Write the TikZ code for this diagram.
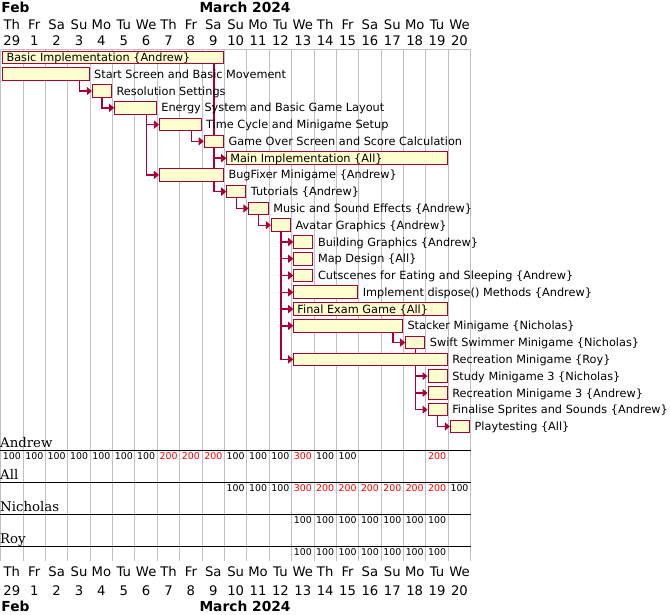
\documentclass[tikz,border=0pt]{standalone}
\usepackage{fontspec}
\setmainfont{DejaVu Sans}
\newfontfamily\resfont{DejaVu Serif}
\usetikzlibrary{arrows.meta,calc}
\definecolor{barfill}{HTML}{FEFECE}
\definecolor{depc}{HTML}{A80036}
\definecolor{gridc}{HTML}{C0C0C0}
\pgfdeclarelayer{bglayer}
\pgfdeclarelayer{arrlayer}
\pgfsetlayers{bglayer,arrlayer,main}
\newcommand\taskout[5]{%
  \node[taskbar, minimum width={22.38*#4-3.2}] (#1) at ({2.3+22.38*#3},{57.5+16.77*#2}) {};
  \node[tasklbl] (#1l) at ($(#1.east)+(4.4,4.1)$) {#5};}
\newcommand\taskin[5]{%
  \node[taskbar, minimum width={22.38*#4-3.2}] (#1) at ({2.3+22.38*#3},{57.5+16.77*#2}) {};
  \node[tasklbl] (#1l) at ($(#1.west)+(4.0,4.1)$) {#5};}
\newcommand\depend[2]{\draw[deparrow] ($(#1.south east)+(-10,0)$) |- (#2.west);}
\begin{document}
\begin{tikzpicture}[x=1pt,y=-1pt,
  taskbar/.style={draw=depc, fill=barfill, line width=1pt, inner sep=0pt, minimum height=12.6pt, anchor=west},
  tasklbl/.style={font=\fontsize{11.3}{13}\selectfont, inner sep=0pt, anchor=base west},
  deparrow/.style={draw=depc, line width=1.4pt, -{Triangle[length=5pt,width=8pt]}},
  hdr/.style={font=\fontsize{13.2}{15}\selectfont, inner sep=0pt, anchor=base},
  month/.style={font=\fontsize{13.8}{16}\selectfont\bfseries, inner sep=0pt, anchor=base west},
  resname/.style={font=\fontsize{13.3}{15}\selectfont\resfont, inner sep=0pt, anchor=base west},
  load/.style={font=\fontsize{9.4}{10}\selectfont, inner sep=0pt, anchor=base},
  gridline/.style={draw=gridc, line width=1pt},
  resline/.style={draw=black, line width=1pt}]
\useasboundingbox (0,0) rectangle (670,614);
% grid
\begin{pgfonlayer}{bglayer}
\foreach \i in {0,...,21} { \draw[gridline] ({0.7+22.38*\i},49.7) -- ({0.7+22.38*\i},560.7); }
\draw[gridline] (0.7,49.7) -- (470.7,49.7);
\end{pgfonlayer}
% headers
\node[month] (mfeb) at (1.2,12.3) {Feb};
\node[month] (mmar) at (199.3,12.3) {March 2024};
\node[month] (mfebb) at (1.2,611.7) {Feb};
\node[month] (mmarb) at (199.3,611.7) {March 2024};
\foreach \d [count=\i from 0] in {Th,Fr,Sa,Su,Mo,Tu,We,Th,Fr,Sa,Su,Mo,Tu,We,Th,Fr,Sa,Su,Mo,Tu,We} {
  \node[hdr] (dt\i) at ({0.7+22.38*(\i+0.5)},29.3) {\d};
  \node[hdr] (db\i) at ({0.7+22.38*(\i+0.5)},576.7) {\d};
}
\foreach \d [count=\i from 0] in {29,1,2,3,4,5,6,7,8,9,10,11,12,13,14,15,16,17,18,19,20} {
  \node[hdr] (nt\i) at ({0.7+22.38*(\i+0.5)},45) {\d};
  \node[hdr] (nb\i) at ({0.7+22.38*(\i+0.5)},595) {\d};
}
% tasks
\taskin{t0}{0}{0}{10}{Basic Implementation \{Andrew\}}
\taskout{t1}{1}{0}{4}{Start Screen and Basic Movement}
\taskout{t2}{2}{4}{1}{Resolution Settings}
\taskout{t3}{3}{5}{2}{Energy System and Basic Game Layout}
\taskout{t4}{4}{7}{2}{Time Cycle and Minigame Setup}
\taskout{t5}{5}{9}{1}{Game Over Screen and Score Calculation}
\taskin{t6}{6}{10}{10}{Main Implementation \{All\}}
\taskout{t7}{7}{7}{3}{BugFixer Minigame \{Andrew\}}
\taskout{t8}{8}{10}{1}{Tutorials \{Andrew\}}
\taskout{t9}{9}{11}{1}{Music and Sound Effects \{Andrew\}}
\taskout{t10}{10}{12}{1}{Avatar Graphics \{Andrew\}}
\taskout{t11}{11}{13}{1}{Building Graphics \{Andrew\}}
\taskout{t12}{12}{13}{1}{Map Design \{All\}}
\taskout{t13}{13}{13}{1}{Cutscenes for Eating and Sleeping \{Andrew\}}
\taskout{t14}{14}{13}{3}{Implement dispose() Methods \{Andrew\}}
\taskin{t15}{15}{13}{7}{Final Exam Game \{All\}}
\taskout{t16}{16}{13}{5}{Stacker Minigame \{Nicholas\}}
\taskout{t17}{17}{18}{1}{Swift Swimmer Minigame \{Nicholas\}}
\taskout{t18}{18}{13}{7}{Recreation Minigame \{Roy\}}
\taskout{t19}{19}{19}{1}{Study Minigame 3 \{Nicholas\}}
\taskout{t20}{20}{19}{1}{Recreation Minigame 3 \{Andrew\}}
\taskout{t21}{21}{19}{1}{Finalise Sprites and Sounds \{Andrew\}}
\taskout{t22}{22}{20}{1}{Playtesting \{All\}}
% dependencies
\begin{pgfonlayer}{arrlayer}
\depend{t1}{t2}
\depend{t2}{t3}
\depend{t3}{t4}
\depend{t4}{t5}
\depend{t3}{t7}
\depend{t0}{t6}
\depend{t5}{t6}
\depend{t0}{t8}
\depend{t7}{t8}
\depend{t8}{t9}
\depend{t9}{t10}
\depend{t10}{t11}
\depend{t10}{t12}
\depend{t10}{t13}
\depend{t10}{t14}
\depend{t10}{t15}
\depend{t10}{t16}
\depend{t10}{t18}
\depend{t16}{t17}
\depend{t17}{t19}
\depend{t17}{t20}
\depend{t17}{t21}
\depend{t21}{t22}
\end{pgfonlayer}
% resources
\node[resname] (rAndrew) at (0,447.3) {Andrew};
\node[resname] (rAll) at (0,479.3) {All};
\node[resname] (rNicholas) at (0,511.3) {Nicholas};
\node[resname] (rRoy) at (0,543.3) {Roy};
\foreach \yy in {450.3,482.3,514.3,546.3} { \draw[resline] (0,\yy) -- (470.7,\yy); }
\foreach \i/\v/\c in {0/100/black,1/100/black,2/100/black,3/100/black,4/100/black,5/100/black,6/100/black,7/200/red,8/200/red,9/200/red,10/100/black,11/100/black,12/100/black,13/300/red,14/100/black,15/100/black,19/200/red} {
  \node[load, text=\c] (la\i) at ({0.7+22.38*(\i+0.5)},459.3) {\v};
}
\foreach \i/\v/\c in {10/100/black,11/100/black,12/100/black,13/300/red,14/200/red,15/200/red,16/200/red,17/200/red,18/200/red,19/200/red,20/100/black} {
  \node[load, text=\c] (lb\i) at ({0.7+22.38*(\i+0.5)},491.3) {\v};
}
\foreach \i in {13,...,19} {
  \node[load] (lc\i) at ({0.7+22.38*(\i+0.5)},523.3) {100};
  \node[load] (ld\i) at ({0.7+22.38*(\i+0.5)},555.3) {100};
}
\end{tikzpicture}
\end{document}
